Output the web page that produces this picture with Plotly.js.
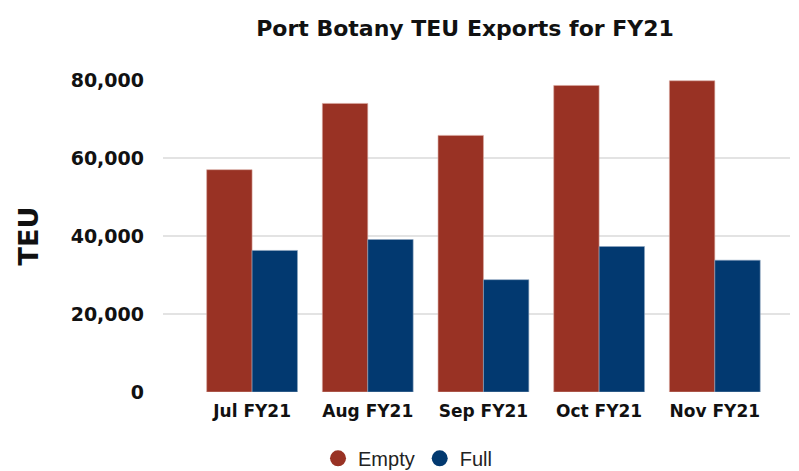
<!DOCTYPE html>
<html>
<head>
<meta charset="utf-8">
<script src="https://cdn.plot.ly/plotly-3.0.1.min.js"></script>
<style>html,body{margin:0;padding:0;background:#fff;}#chart{width:799px;height:471px;}</style>
</head>
<body>
<div id="chart"></div>
<script>
const months = ["Jul FY21", "Aug FY21", "Sep FY21", "Oct FY21", "Nov FY21"];
const emptyTEU = [57000, 74000, 65800, 78600, 79800];
const fullTEU = [36300, 39100, 28800, 37300, 33800];
const yTicks = [0, 20000, 40000, 60000, 80000];
const yTickText = ["0", "20,000", "40,000", "60,000", "80,000"];

const RED = "#993224";
const BLUE = "#023970";

const traces = [
  {type: "bar", name: "Empty", x: months, y: emptyTEU, marker: {color: RED, line: {color: "#d8a8a0", width: 0.6}}, showlegend: false, hoverinfo: "y"},
  {type: "bar", name: "Full", x: months, y: fullTEU, marker: {color: BLUE, line: {color: "#8fa6c0", width: 0.6}}, showlegend: false, hoverinfo: "y"},
  {type: "scatter", mode: "markers", name: "Empty", x: [null], y: [null], marker: {color: RED, size: 16, symbol: "circle"}, showlegend: true},
  {type: "scatter", mode: "markers", name: "Full", x: [null], y: [null], marker: {color: BLUE, size: 16, symbol: "circle"}, showlegend: true}
];

const layout = {
  width: 799, height: 471,
  margin: {l: 163, r: 9, t: 80, b: 79, autoexpand: false},
  paper_bgcolor: "#fff", plot_bgcolor: "#fff",
  barmode: "group", bargap: 0.215, bargroupgap: 0,
  title: {text: "Port Botany TEU Exports for FY21", x: 0.582, xanchor: "center", y: 0.94, yanchor: "middle",
          font: {family: "DejaVu Sans", size: 22, color: "#111", weight: "bold"}},
  xaxis: {
    type: "category", range: [-0.77, 4.65],
    showgrid: false, zeroline: false, showline: false, ticks: "",
    tickfont: {family: "DejaVu Sans", size: 17, color: "#111", weight: "bold"},
    ticklabelstandoff: 7
  },
  yaxis: {
    range: [0, 80000], tickvals: yTicks, ticktext: yTickText,
    showgrid: true, gridcolor: "#e3e3e3", gridwidth: 1.5,
    zeroline: false, showline: false, ticks: "",
    tickfont: {family: "DejaVu Sans", size: 19, color: "#111", weight: "bold"},
    ticklabelstandoff: 18,
    title: {text: "TEU", standoff: 24, font: {family: "DejaVu Sans", size: 27, color: "#111", weight: "bold"}}
  },
  legend: {orientation: "h", x: 0.39, xanchor: "center", yref: "container", y: 0.027, yanchor: "middle",
           font: {family: "Liberation Sans", size: 20, color: "#222"}, itemwidth: 30, tracegroupgap: 0},
  showlegend: true
};

Plotly.newPlot("chart", traces, layout, {displayModeBar: false, staticPlot: true});
</script>
</body>
</html>
